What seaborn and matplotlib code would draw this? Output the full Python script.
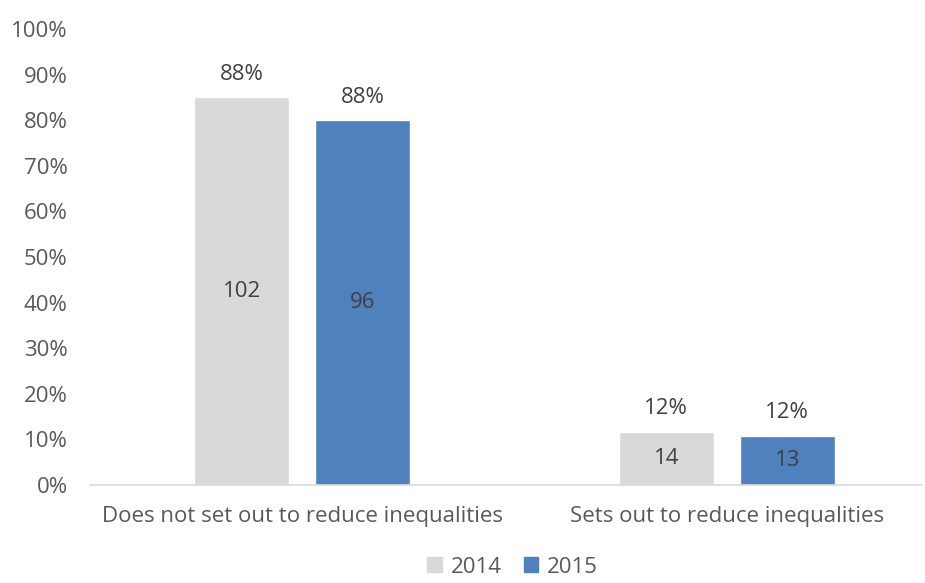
import pandas as pd
import matplotlib.pyplot as plt
import seaborn as sns
from matplotlib.ticker import PercentFormatter
from matplotlib.patches import Patch

# values
categories = ['Does not set out to reduce inequalities', 'Sets out to reduce inequalities']
years = ['2014', '2015']
share_2014 = [0.85, 0.117]
share_2015 = [0.80, 0.108]
count_2014 = [102, 14]
count_2015 = [96, 13]
pct_2014 = ['88%', '12%']
pct_2015 = ['88%', '12%']

colors = {'2014': '#d9d9d9', '2015': '#4f81bd'}
text_col = '#595959'

df = pd.DataFrame({
    'category': categories * 2,
    'year': ['2014'] * 2 + ['2015'] * 2,
    'share': share_2014 + share_2015,
})

sns.set_theme(style='white')
plt.rcParams['font.family'] = ['Open Sans', 'DejaVu Sans']

fig = plt.figure(figsize=(9.25, 5.83), dpi=100)
ax = fig.add_axes([90 / 925, 1 - 485 / 583, 832 / 925, 456 / 583])

sns.barplot(data=df, x='category', y='share', hue='year', palette=colors,
            width=0.57, gap=0.214, ax=ax, legend=False, saturation=1)

ax.set_ylim(0, 1)
ax.set_xlim(-0.5, 1.46)
ax.yaxis.set_major_formatter(PercentFormatter(1.0, decimals=0))
ax.set_yticks([i / 10 for i in range(11)])
ax.tick_params(axis='y', length=0, pad=16, labelsize=16, labelcolor=text_col)
ax.tick_params(axis='x', length=0, pad=15, labelsize=16, labelcolor=text_col)
ax.set_xlabel('')
ax.set_ylabel('')
for s in ['top', 'right', 'left']:
    ax.spines[s].set_visible(False)
ax.spines['bottom'].set_color('#d9d9d9')
ax.spines['bottom'].set_linewidth(1.2)

for cont, counts, pcts in zip(ax.containers, [count_2014, count_2015], [pct_2014, pct_2015]):
    ax.bar_label(cont, labels=[str(c) for c in counts], label_type='center',
                 fontsize=16, color='#404040')
    ax.bar_label(cont, labels=pcts, padding=9, fontsize=16, color='#404040')

handles = [Patch(color=colors[y]) for y in years]
fig.legend(handles, years, loc='lower center', bbox_to_anchor=(0.554, -0.025),
           ncol=2, frameon=False, fontsize=16, labelcolor=text_col,
           handlelength=0.65, handleheight=0.65, handletextpad=0.4, columnspacing=1.0)

plt.savefig('out.png', dpi=100)
